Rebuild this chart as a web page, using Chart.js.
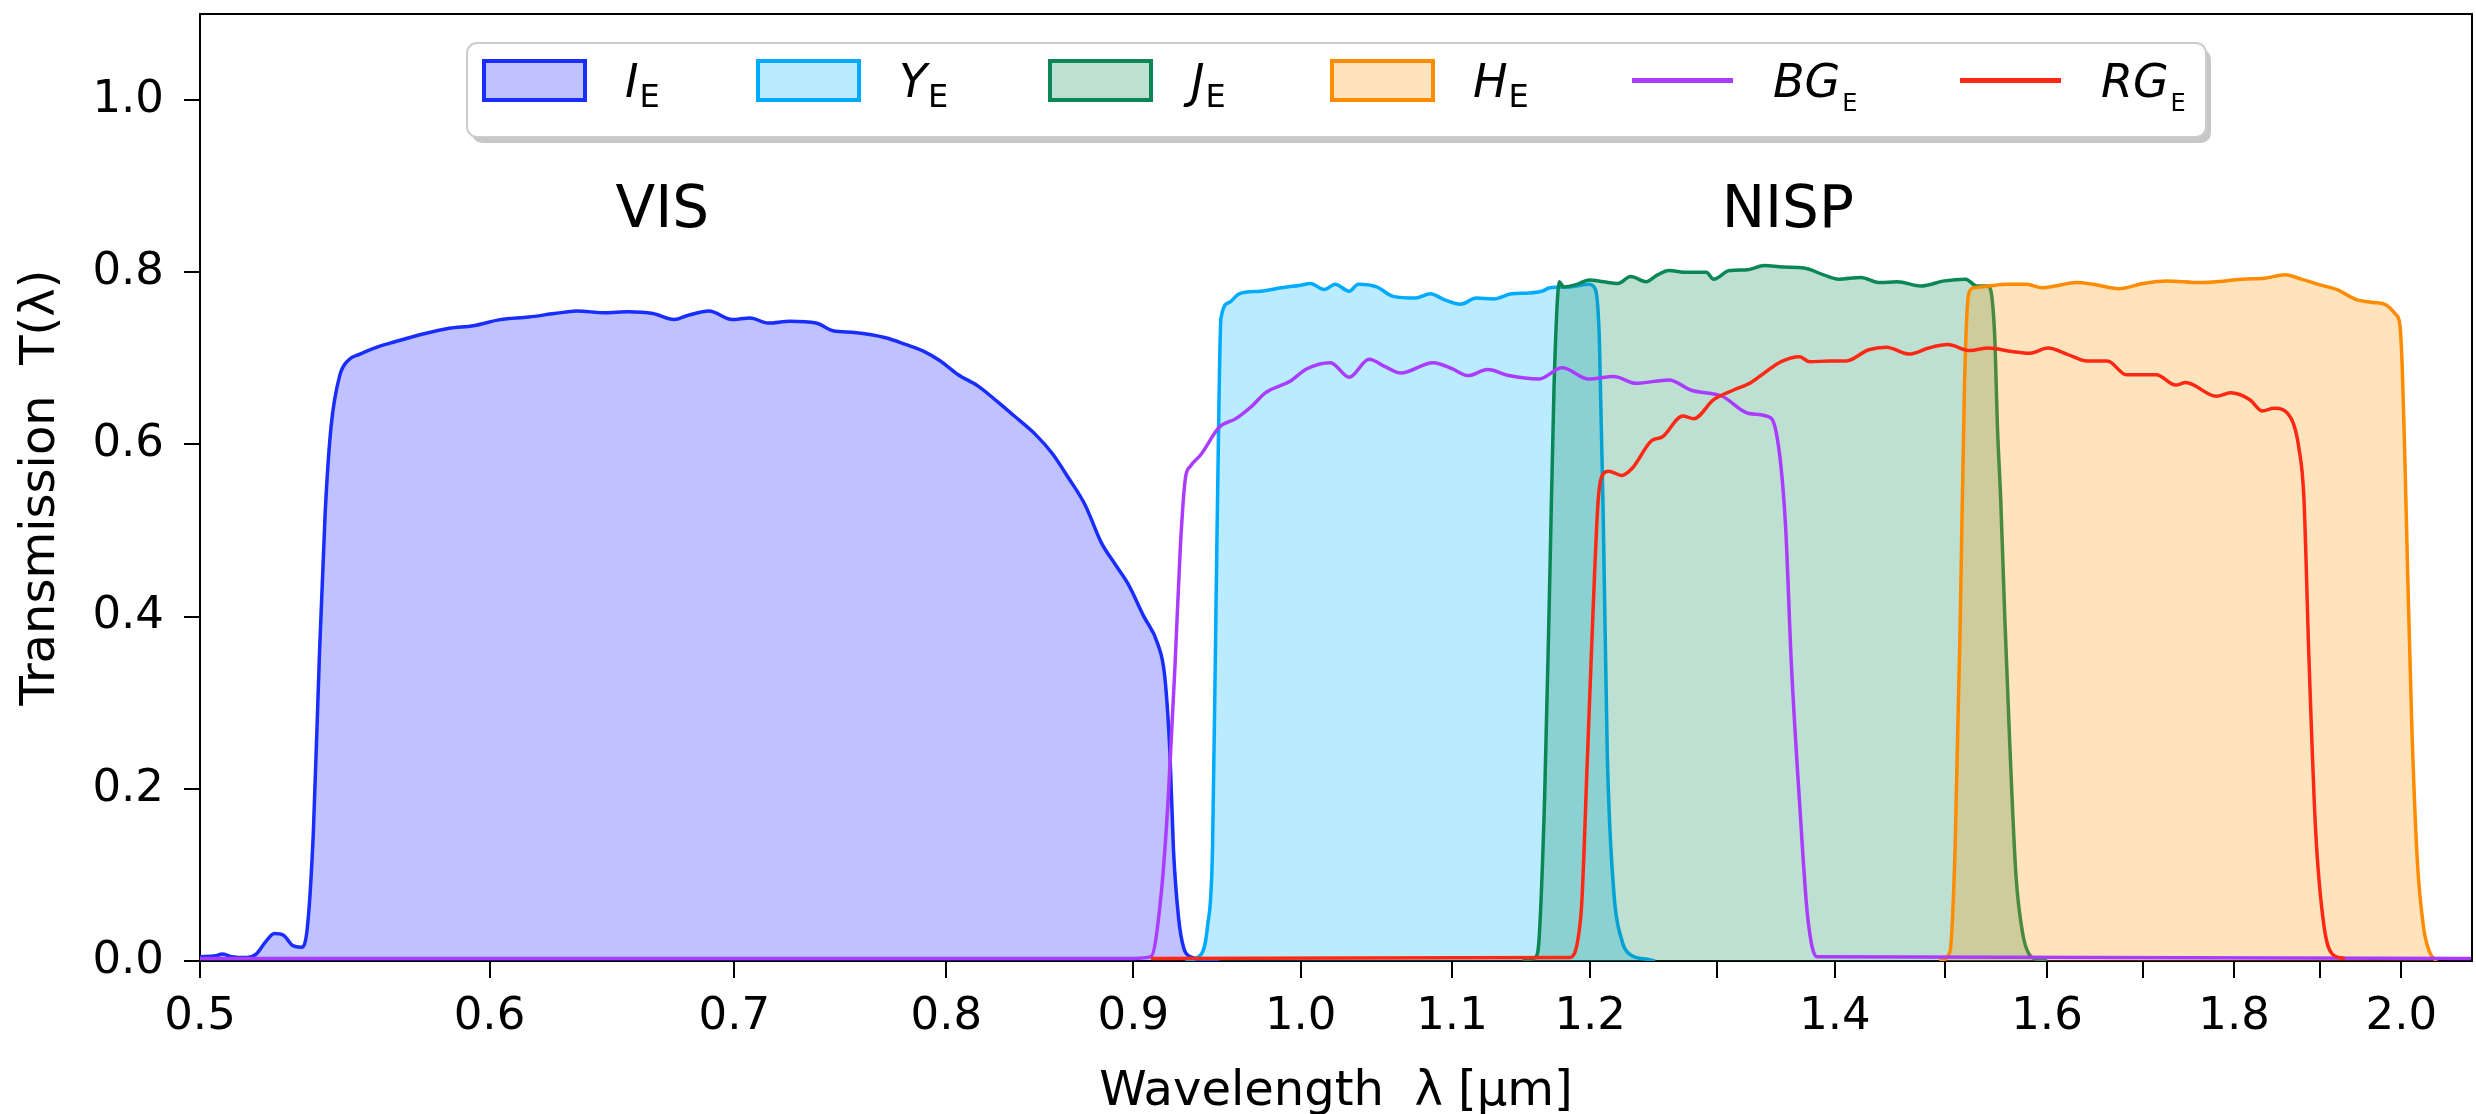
<!DOCTYPE html>
<html><head><meta charset="utf-8">
<script src="https://cdn.jsdelivr.net/npm/chart.js@4.4.0/dist/chart.umd.min.js"></script>
<style>html,body{margin:0;padding:0;background:#fff;overflow:hidden}</style>
</head><body>
<canvas id="c" width="2476" height="1114" style="width:2476px;height:1114px;display:block"></canvas>
<script>
// ---- data (wavelength in micron, transmission) ----
const iE_wl = [0.500,0.505,0.507,0.510,0.515,0.518,0.521,0.524,0.527,0.530,0.533,0.535,0.537,0.539,0.541,0.543,0.546,0.549,0.553,0.558,0.565,0.575,0.585,0.594,0.604,0.615,0.625,0.634,0.645,0.655,0.665,0.674,0.680,0.689,0.699,0.707,0.715,0.725,0.737,0.745,0.755,0.770,0.780,0.788,0.797,0.806,0.816,0.826,0.835,0.846,0.855,0.864,0.873,0.882,0.890,0.897,0.906,0.914,0.918,0.921,0.923,0.926,0.929,0.933,0.940,0.950];
const iE_T  = [0.005,0.006,0.008,0.005,0.004,0.008,0.022,0.032,0.030,0.018,0.016,0.040,0.150,0.350,0.520,0.620,0.680,0.698,0.705,0.712,0.719,0.728,0.735,0.738,0.745,0.748,0.752,0.755,0.753,0.754,0.752,0.745,0.750,0.755,0.745,0.747,0.741,0.743,0.741,0.732,0.730,0.724,0.716,0.709,0.697,0.681,0.668,0.650,0.633,0.612,0.590,0.561,0.530,0.486,0.460,0.438,0.400,0.368,0.330,0.240,0.130,0.050,0.015,0.005,0.002,0.000];

const yE_wl = [0.930,0.939,0.943,0.946,0.948,0.950,0.951,0.956,0.962,0.975,0.988,1.000,1.006,1.015,1.022,1.031,1.037,1.049,1.060,1.075,1.085,1.095,1.106,1.117,1.129,1.142,1.155,1.164,1.170,1.185,1.199,1.204,1.207,1.210,1.213,1.218,1.224,1.231,1.244,1.250];
const yE_T  = [0.000,0.007,0.040,0.130,0.400,0.668,0.746,0.765,0.775,0.778,0.782,0.785,0.787,0.780,0.786,0.778,0.786,0.783,0.772,0.770,0.775,0.768,0.763,0.770,0.769,0.775,0.776,0.778,0.782,0.783,0.786,0.780,0.720,0.507,0.240,0.080,0.025,0.007,0.002,0.000];

const jE_wl = [1.150,1.158,1.161,1.166,1.170,1.173,1.177,1.180,1.190,1.199,1.210,1.221,1.231,1.243,1.252,1.261,1.275,1.291,1.297,1.310,1.325,1.339,1.355,1.373,1.390,1.403,1.423,1.440,1.456,1.478,1.500,1.520,1.531,1.542,1.548,1.551,1.554,1.558,1.563,1.569,1.576,1.582,1.590,1.600];
const jE_T  = [0.000,0.003,0.010,0.186,0.455,0.668,0.789,0.783,0.786,0.791,0.789,0.787,0.795,0.789,0.797,0.802,0.800,0.800,0.792,0.802,0.803,0.808,0.806,0.805,0.797,0.792,0.794,0.788,0.789,0.784,0.790,0.792,0.784,0.784,0.730,0.615,0.537,0.400,0.250,0.100,0.030,0.008,0.002,0.000];

const hE_wl = [1.495,1.505,1.510,1.515,1.519,1.523,1.528,1.542,1.560,1.580,1.595,1.608,1.630,1.647,1.674,1.700,1.725,1.762,1.790,1.810,1.835,1.859,1.878,1.898,1.920,1.945,1.965,1.981,1.993,1.998,2.001,2.004,2.008,2.013,2.020,2.028,2.036,2.045];
const hE_T  = [0.000,0.010,0.130,0.400,0.670,0.775,0.782,0.784,0.786,0.786,0.782,0.784,0.788,0.786,0.781,0.787,0.790,0.788,0.790,0.792,0.793,0.797,0.792,0.786,0.780,0.768,0.765,0.762,0.751,0.740,0.693,0.600,0.450,0.280,0.120,0.040,0.010,0.000];

const bgE_wl = [0.500,0.900,0.910,0.916,0.920,0.924,0.927,0.930,0.933,0.939,0.950,0.960,0.970,0.978,0.993,1.004,1.019,1.031,1.044,1.055,1.065,1.087,1.100,1.111,1.125,1.140,1.162,1.179,1.199,1.218,1.235,1.261,1.279,1.304,1.326,1.341,1.349,1.357,1.362,1.369,1.376,1.384,2.091];
const bgE_T  = [0.003,0.003,0.005,0.080,0.190,0.347,0.480,0.561,0.575,0.588,0.620,0.630,0.645,0.660,0.673,0.688,0.695,0.678,0.699,0.690,0.683,0.695,0.688,0.680,0.687,0.680,0.676,0.689,0.676,0.679,0.671,0.675,0.663,0.656,0.636,0.633,0.615,0.508,0.347,0.187,0.053,0.005,0.003];

const rgE_wl = [0.910,1.184,1.193,1.198,1.202,1.206,1.210,1.214,1.224,1.232,1.247,1.256,1.272,1.281,1.297,1.313,1.328,1.340,1.353,1.369,1.378,1.395,1.410,1.430,1.446,1.467,1.485,1.503,1.524,1.542,1.565,1.583,1.601,1.620,1.641,1.662,1.682,1.714,1.735,1.746,1.780,1.796,1.818,1.832,1.846,1.866,1.875,1.881,1.887,1.895,1.905,1.915,1.930];
const rgE_T  = [0.003,0.004,0.053,0.240,0.400,0.534,0.566,0.569,0.564,0.572,0.604,0.609,0.633,0.630,0.652,0.663,0.672,0.684,0.696,0.702,0.696,0.697,0.697,0.710,0.713,0.705,0.712,0.716,0.709,0.712,0.708,0.706,0.712,0.705,0.697,0.697,0.681,0.681,0.669,0.672,0.656,0.660,0.652,0.639,0.642,0.630,0.596,0.537,0.350,0.150,0.040,0.008,0.003];

const seriesMain = ['I','Y','J','H','BG','RG'];
const seriesSub = 'E';

const xTickValues = [0.5,0.6,0.7,0.8,0.9,1.0,1.1,1.2,1.3,1.4,1.5,1.6,1.7,1.8,1.9,2.0];
const xTickLabels = ['0.5','0.6','0.7','0.8','0.9','1.0','1.1','1.2','','1.4','','1.6','','1.8','','2.0'];
const yTickValues = [0,0.2,0.4,0.6,0.8,1.0];
const yTickLabels = ['0.0','0.2','0.4','0.6','0.8','1.0'];

const noteText = ['VIS','NISP'];
const noteX = [0.669,1.359];
const noteY = [0.853,0.853];

// ---- helpers ----
const pts = (wl, T) => wl.map((w, i) => ({x: w, y: T[i]}));
const FONT = '"DejaVu Sans", "Liberation Sans", sans-serif';

const colors = {
  I:  ['rgb(25,45,255)',  'rgba(25,35,250,0.28)'],
  Y:  ['rgb(0,170,255)',  'rgba(0,180,250,0.27)'],
  J:  ['rgb(10,135,85)',  'rgba(10,140,90,0.27)'],
  H:  ['rgb(255,140,0)',  'rgba(255,145,0,0.26)'],
  BG: ['rgb(170,60,255)', null],
  RG: ['rgb(255,40,20)',  null]
};

function ds(name, wl, T, order) {
  const c = colors[name];
  return {
    label: name + '_' + seriesSub,
    data: pts(wl, T),
    borderColor: c[0],
    backgroundColor: c[1] || c[0],
    fill: c[1] ? 'origin' : false,
    borderWidth: 3.5,
    pointRadius: 0,
    cubicInterpolationMode: 'monotone',
    order: order
  };
}

const framePlugin = {
  id: 'frame',
  afterDraw(chart) {
    const {ctx, chartArea: a} = chart;
    ctx.save();
    ctx.strokeStyle = '#000';
    ctx.lineWidth = 2;
    ctx.beginPath();
    ctx.moveTo(a.left, a.top); ctx.lineTo(a.right, a.top); ctx.lineTo(a.right, a.bottom);
    ctx.stroke();
    ctx.restore();
  }
};

const notePlugin = {
  id: 'notes',
  afterDatasetsDraw(chart) {
    const {ctx, scales} = chart;
    ctx.save();
    ctx.fillStyle = '#000';
    ctx.font = '58px ' + FONT;
    ctx.textAlign = 'center';
    ctx.textBaseline = 'alphabetic';
    noteText.forEach((t, i) => {
      ctx.fillText(t, scales.x.getPixelForValue(noteX[i]), scales.y.getPixelForValue(noteY[i]));
    });
    ctx.restore();
  }
};

function roundRectPath(ctx, x, y, w, h, r) {
  ctx.beginPath();
  ctx.moveTo(x + r, y);
  ctx.lineTo(x + w - r, y); ctx.arcTo(x + w, y, x + w, y + r, r);
  ctx.lineTo(x + w, y + h - r); ctx.arcTo(x + w, y + h, x + w - r, y + h, r);
  ctx.lineTo(x + r, y + h); ctx.arcTo(x, y + h, x, y + h - r, r);
  ctx.lineTo(x, y + r); ctx.arcTo(x, y, x + r, y, r);
  ctx.closePath();
}

const legendPlugin = {
  id: 'mplLegend',
  afterDraw(chart) {
    const ctx = chart.ctx;
    const bx = 467, by = 43, bw = 1739, bh = 94;
    ctx.save();
    roundRectPath(ctx, bx + 5, by + 6, bw, bh, 10);
    ctx.fillStyle = 'rgba(0,0,0,0.22)';
    ctx.fill();
    roundRectPath(ctx, bx, by, bw, bh, 10);
    ctx.fillStyle = '#fff';
    ctx.fill();
    ctx.strokeStyle = '#cccccc';
    ctx.lineWidth = 2;
    ctx.stroke();
    const handleX = [484, 758, 1050, 1332, 1632, 1960];
    const hw = 101, hy = 61, hh = 39, cy = 80.5;
    chart.data.datasets.forEach((d, i) => {
      const x = handleX[i];
      if (d.fill) {
        ctx.fillStyle = '#fff';
        ctx.fillRect(x, hy, hw, hh);
        ctx.fillStyle = d.backgroundColor;
        ctx.fillRect(x, hy, hw, hh);
        ctx.strokeStyle = d.borderColor;
        ctx.lineWidth = 4;
        ctx.strokeRect(x, hy, hw, hh);
      } else {
        ctx.strokeStyle = d.borderColor;
        ctx.lineWidth = 5;
        ctx.beginPath(); ctx.moveTo(x, cy); ctx.lineTo(x + hw, cy); ctx.stroke();
      }
      const tx = x + 141;
      ctx.fillStyle = '#000';
      ctx.textAlign = 'left';
      ctx.textBaseline = 'alphabetic';
      ctx.font = 'italic 46px ' + FONT;
      ctx.fillText(seriesMain[i], tx, 97);
      const w = ctx.measureText(seriesMain[i]).width;
      if (d.fill) {
        ctx.font = '32px ' + FONT;
        ctx.fillText(seriesSub, tx + w + 1, 107);
      } else {
        ctx.font = '24px ' + FONT;
        ctx.fillText(seriesSub, tx + w + 2, 111);
      }
    });
    ctx.restore();
  }
};

new Chart(document.getElementById('c'), {
  type: 'line',
  data: {
    datasets: [
      ds('I', iE_wl, iE_T, 6),
      ds('Y', yE_wl, yE_T, 5),
      ds('J', jE_wl, jE_T, 4),
      ds('H', hE_wl, hE_T, 3),
      ds('BG', bgE_wl, bgE_T, 2),
      ds('RG', rgE_wl, rgE_T, 1)
    ]
  },
  options: {
    responsive: false,
    animation: false,
    devicePixelRatio: 1,
    layout: {padding: {left: 0, right: 4, top: 14, bottom: 0}},
    plugins: {legend: {display: false}, tooltip: {enabled: false}},
    scales: {
      x: {
        type: 'logarithmic',
        min: 0.5, max: 2.091,
        afterBuildTicks: s => { s.ticks = xTickValues.map(v => ({value: v})); },
        afterFit: s => { s.height = 153; s.paddingLeft = 0; s.paddingRight = 0; },
        ticks: {autoSkip: false, maxRotation: 0, minRotation: 0, padding: 12, color: '#000',
                font: {family: FONT, size: 45}, callback: (v, i) => xTickLabels[i]},
        grid: {drawOnChartArea: false, drawTicks: true, tickLength: 17, color: '#000', lineWidth: 2},
        border: {display: true, color: '#000', width: 2},
        title: {display: true, text: 'Wavelength  \u03bb [\u03bcm]', color: '#000',
                font: {family: FONT, size: 48, lineHeight: 0.9}, padding: {top: 0, bottom: 0}}
      },
      y: {
        min: 0, max: 1.1,
        afterBuildTicks: s => { s.ticks = yTickValues.map(v => ({value: v})); },
        afterFit: s => { s.width = 200; s.paddingTop = 0; s.paddingBottom = 0; },
        ticks: {padding: 20, color: '#000', font: {family: FONT, size: 45}, callback: (v, i) => yTickLabels[i]},
        grid: {drawOnChartArea: false, drawTicks: true, tickLength: 16, color: '#000', lineWidth: 2},
        border: {display: true, color: '#000', width: 2},
        title: {display: true, text: 'Transmission  T(\u03bb)', color: '#000',
                font: {family: FONT, size: 48, lineHeight: 0.9}, padding: {top: 20, bottom: 0}}
      }
    }
  },
  plugins: [framePlugin, notePlugin, legendPlugin]
});
</script>
</body></html>
